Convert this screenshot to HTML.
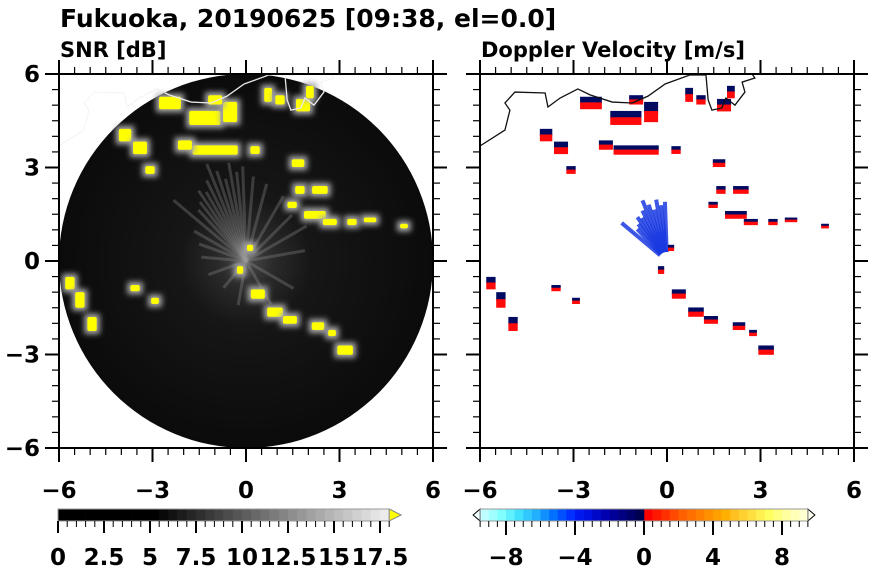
<!DOCTYPE html>
<html><head><meta charset="utf-8">
<style>
body{margin:0;background:#fff;}
svg text{font-family:"DejaVu Sans","Liberation Sans",sans-serif;font-weight:bold;fill:#000;}
</style></head>
<body>
<svg id="c" width="870" height="570" viewBox="0 0 870 570" xmlns="http://www.w3.org/2000/svg">
<text x="60" y="27" font-size="25">Fukuoka, 20190625 [09:38, el=0.0]</text>
<text x="60" y="57" font-size="21">SNR [dB]</text>
<text x="481" y="57" font-size="21">Doppler Velocity [m/s]</text>
</svg>
<script>
// echoes: x km, y km, width km, height km
const echoX=[-2.44,-1.32,-0.51,-0.99,0.71,1.09,1.83,2.05,-0.99,-1.96,0.29,-3.88,-3.4,-3.08,1.67,2.37,1.73,2.21,2.69,3.4,3.98,5.07,1.48,-5.65,-5.33,-4.94,0.38,0.93,1.41,2.31,3.18,2.76,-3.56,-2.92,0.13,-0.19];
const echoY=[5.07,4.59,4.78,5.17,5.33,5.17,5.0,5.42,3.56,3.72,3.56,4.04,3.63,2.92,3.14,2.28,2.28,1.48,1.25,1.25,1.32,1.12,1.8,-0.71,-1.25,-2.02,-1.06,-1.64,-1.89,-2.09,-2.86,-2.31,-0.87,-1.28,0.42,-0.29];
const echoW=[0.7,1.0,0.45,0.45,0.25,0.3,0.45,0.25,1.45,0.45,0.3,0.4,0.45,0.3,0.4,0.5,0.3,0.7,0.45,0.3,0.4,0.25,0.3,0.3,0.3,0.3,0.45,0.5,0.45,0.4,0.5,0.25,0.3,0.25,0.2,0.2];
const echoH=[0.4,0.45,0.65,0.3,0.45,0.3,0.4,0.4,0.3,0.3,0.25,0.4,0.4,0.25,0.25,0.25,0.25,0.25,0.2,0.2,0.15,0.15,0.2,0.4,0.5,0.45,0.3,0.3,0.25,0.25,0.3,0.2,0.2,0.2,0.2,0.25];
// near-range ray fan: angle deg (math), length km
const rayAng=[92,96,100,104,108,112,116,120,124,128,133,140,150,160,175,200,230,260,300,330,10,30,45,60,75,85];
const rayLen=[1.9,1.8,2.0,1.7,1.9,2.1,1.8,1.6,1.7,1.5,1.4,1.9,1.2,1.0,0.9,0.8,0.7,0.9,1.0,1.1,1.2,1.4,1.3,1.5,1.6,1.7];
const coastX=[-6.0,-5.2,-5.04,-5.2,-4.88,-3.91,-3.82,-3.43,-2.86,-2.47,-1.76,-1.12,-0.61,-0.06,0.74,1.25,1.32,1.44,1.76,1.89,2.18,2.5,2.41,2.82,2.73];
const coastY=[3.69,4.2,4.84,5.07,5.42,5.39,4.94,5.23,5.52,5.33,5.1,5.07,5.29,5.68,5.97,5.97,5.17,4.84,4.91,5.23,5.0,5.42,5.74,5.87,6.0];
const axisTicks=[-6,-3,0,3,6];
const axisTickLabels=["−6","−3","0","3","6"];
const snrTicks=[0,2.5,5,7.5,10,12.5,15,17.5];
const snrTickLabels=["0","2.5","5","7.5","10","12.5","15","17.5"];
const velTicks=[-8,-4,0,4,8];
const velTickLabels=["−8","−4","0","4","8"];

const NS='http://www.w3.org/2000/svg';
const svg=document.getElementById('c');
function mk(t,a,p){const e=document.createElementNS(NS,t);for(const k in a)e.setAttribute(k,a[k]);(p||svg).appendChild(e);return e;}
const PY0=74,PY1=448,S=374/12;
const panels=[{x0:59,name:'snr'},{x0:480,name:'doppler'}];
function sx(p,v){return p.x0+(v+6)*S;}
function sy(v){return PY0+(6-v)*S;}

const defs=mk('defs',{});
const f=mk('filter',{id:'glow',x:'-50%',y:'-50%',width:'200%',height:'200%'},defs);
mk('feGaussianBlur',{stdDeviation:'3'},f);
const rg=mk('radialGradient',{id:'discgrad'},defs);
mk('stop',{offset:'0','stop-color':'#4a4a4a'},rg);
mk('stop',{offset:'0.15','stop-color':'#2a2a2a'},rg);
mk('stop',{offset:'0.35','stop-color':'#161616'},rg);
mk('stop',{offset:'1','stop-color':'#0b0b0b'},rg);
panels.forEach((p,pi)=>{
  const cp=mk('clipPath',{id:'clip'+pi},defs);
  mk('rect',{x:p.x0,y:PY0,width:374,height:374},cp);
  const g=mk('g',{'clip-path':'url(#clip'+pi+')'});
  
  
  const cx=sx(p,0),cy=sy(0);
  const pts=coastX.map((v,i)=>sx(p,v)+','+sy(coastY[i])).join(' ');
  if(pi===0){
    const faint=mk('polyline',{points:pts,fill:'none',stroke:'#f3f3f3','stroke-width':1},g);
    
    
    const disc=mk('circle',{cx:cx,cy:cy,r:6*S,fill:'url(#discgrad)'},g);
    
    
    const dc=mk('clipPath',{id:'disc'},defs);
    mk('circle',{cx:cx,cy:cy,r:6*S},dc);
  }
  for(let i=0;i<rayAng.length;i++){
    const a=rayAng[i]*Math.PI/180;
    const L=(pi===0?1.6:1.0)*rayLen[i];
    if(pi===1&&(rayAng[i]<90||rayAng[i]>145))continue;
    const ln=mk('line',{x1:cx,y1:cy,x2:cx+Math.cos(a)*L*S,y2:cy-Math.sin(a)*L*S,
      stroke:pi===0?'#999':'#1a3ae0','stroke-width':pi===0?3:4,'stroke-opacity':pi===0?0.3:0.85},g);
    
    
  }
  if(pi===1){const hole=mk('circle',{cx:cx,cy:cy,r:9,fill:'#fff'},g);
    }
  for(let i=0;i<echoX.length;i++){
    const x=sx(p,echoX[i]-echoW[i]/2),y=sy(echoY[i]+echoH[i]/2),w=echoW[i]*S,h=echoH[i]*S;
    if(pi===0){
      const halo=mk('rect',{x:x-3,y:y-3,width:w+6,height:h+6,fill:'#aaa',filter:'url(#glow)'},g);
      
      
      const r=mk('rect',{x:x,y:y,width:w,height:h,fill:'#ffff00',rx:2},g);
      
      
    }else{
      const n=mk('rect',{x:x,y:y,width:w,height:h*0.55,fill:'#000a60'},g);
      
      
      const r=mk('rect',{x:x,y:y+h*0.45,width:w,height:h*0.55,fill:'#ff0a0a'},g);
      
      
    }
  }
  const cl=mk('polyline',{points:pts,fill:'none',stroke:pi===0?'#e8e8e8':'#111','stroke-width':1.3},g);
  if(pi===0)cl.setAttribute('clip-path','url(#disc)');
  
  
  const fr=mk('rect',{x:p.x0,y:PY0,width:374,height:374,fill:'none',stroke:'#000','stroke-width':2});
  
  
  for(let v=-6;v<=6.001;v+=0.5){
    const major=Math.abs(v/3-Math.round(v/3))<1e-6;
    const L=major?14:7, X=sx(p,v), Y=sy(v);
    [[X,PY1,X,PY1+L],[X,PY0,X,PY0-L],[p.x0,Y,p.x0-L,Y],[p.x0+374,Y,p.x0+374+L,Y]].forEach(c=>{
      const t=mk('line',{x1:c[0],y1:c[1],x2:c[2],y2:c[3],stroke:'#000','stroke-width':major?2:1.2});
      
      
    });
  }
  axisTicks.forEach((v,i)=>{
    const t=mk('text',{x:sx(p,v),y:498,'font-size':23,'text-anchor':'middle'});
    t.textContent=axisTickLabels[i];
    
    
    if(pi===0){
      const u=mk('text',{x:40,y:sy(v)+8,'font-size':23,'text-anchor':'end'});
      u.textContent=axisTickLabels[i];
      
      
    }
  });
});
const CB0=509,CB1=521;
const snrX=v=>58+v*18.4;
for(let v=0;v<17.7;v+=0.5){
  const lv=v<5?0:Math.round((v-5)/12.7*240);
  const r=mk('rect',{x:snrX(v),y:CB0,width:0.5*18.4+0.3,height:CB1-CB0,fill:`rgb(${lv},${lv},${lv})`});
  
  
}
const tri=mk('polygon',{points:`${snrX(18)},${CB0} ${snrX(18)+12},${(CB0+CB1)/2} ${snrX(18)},${CB1}`,fill:'#ffff00',stroke:'#888'});


const sb=mk('rect',{x:58,y:CB0,width:snrX(18)-58,height:CB1-CB0,fill:'none',stroke:'#999'});


for(let v=0;v<=18;v+=0.5){
  const major=Math.abs(v/2.5-Math.round(v/2.5))<1e-6;
  const t=mk('line',{x1:snrX(v),y1:CB1,x2:snrX(v),y2:CB1+(major?12:6),stroke:'#000','stroke-width':major?2:1});
  
  
}
snrTicks.forEach((v,i)=>{
  const t=mk('text',{x:snrX(v),y:565,'font-size':23,'text-anchor':'middle'});
  t.textContent=snrTickLabels[i];
  
  
});
const velX=v=>644+v*17.25;
const neg=['#e0ffff','#c0ffff','#a0ffff','#80ffff','#60f0ff','#40e0ff','#30c8ff','#20b0ff','#1090ff','#0070ff','#0050ff','#0030ff','#0018f0','#0010e0','#0008c8','#0000b0','#000098','#000080','#000068','#000050'];
const pos=['#ff0000','#ff1800','#ff3000','#ff4800','#ff6000','#ff7000','#ff8000','#ff9000','#ffa000','#ffb000','#ffc020','#ffd030','#ffe040','#fff050','#ffff60','#ffff80','#ffffa0','#ffffb8','#ffffd0','#ffffe0'];
for(let i=0;i<19;i++){
  const v=-9.5+i*0.5;
  const r=mk('rect',{x:velX(v),y:CB0,width:0.5*17.25+0.3,height:CB1-CB0,fill:neg[i+1]});
  
  
  const q=mk('rect',{x:velX(i*0.5),y:CB0,width:0.5*17.25+0.3,height:CB1-CB0,fill:pos[i]});
  
  
}
const tl=mk('polygon',{points:`${velX(-9.5)},${CB0} ${velX(-9.5)-7},${(CB0+CB1)/2} ${velX(-9.5)},${CB1}`,fill:'#f0ffff',stroke:'#000'});


const tr=mk('polygon',{points:`${velX(9.5)},${CB0} ${velX(9.5)+7},${(CB0+CB1)/2} ${velX(9.5)},${CB1}`,fill:'#fffff0',stroke:'#000'});


const vb=mk('rect',{x:velX(-9.5),y:CB0,width:velX(9.5)-velX(-9.5),height:CB1-CB0,fill:'none',stroke:'#999'});


for(let v=-9.5;v<=9.501;v+=0.5){
  const major=Math.abs(v/4-Math.round(v/4))<1e-6;
  const t=mk('line',{x1:velX(v),y1:CB1,x2:velX(v),y2:CB1+(major?14:6),stroke:'#000','stroke-width':major?2:1});
  
  
}
velTicks.forEach((v,i)=>{
  const t=mk('text',{x:velX(v),y:565,'font-size':23,'text-anchor':'middle'});
  t.textContent=velTickLabels[i];
  
  
});
</script>
</body></html>
